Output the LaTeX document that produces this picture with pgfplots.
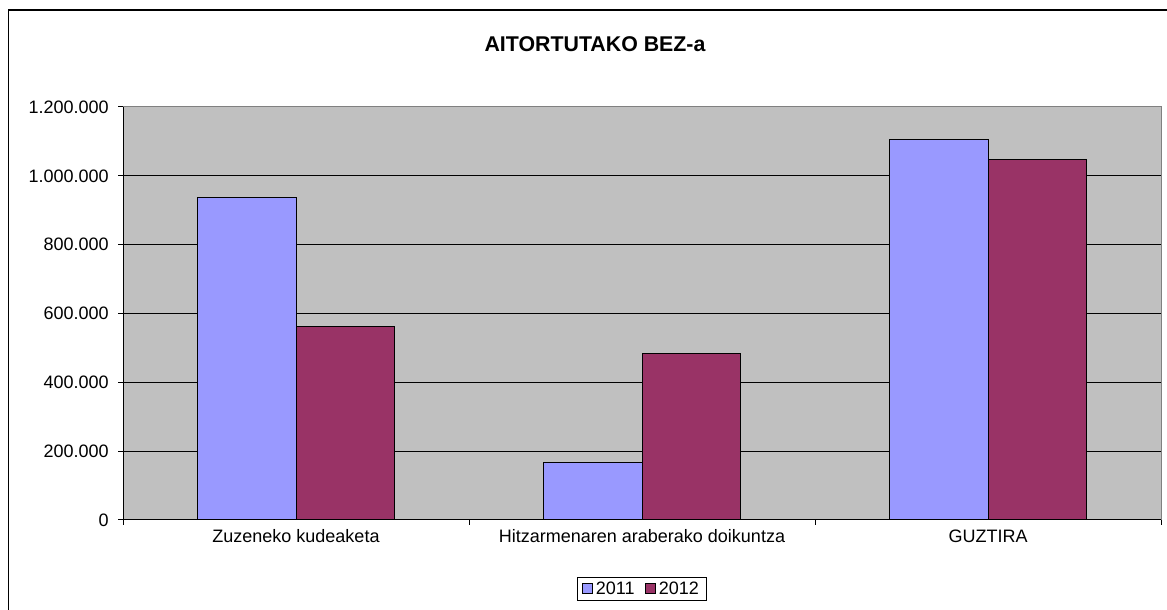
\documentclass[border=0pt]{standalone}
\usepackage{pgfplots}
\pgfplotsset{compat=1.18}
\usepackage{fontspec}
\setmainfont{Liberation Sans}
\definecolor{bgc}{RGB}{192,192,192}
\definecolor{c2011}{RGB}{153,153,255}
\definecolor{c2012}{RGB}{153,51,102}
\definecolor{bordergray}{RGB}{128,128,128}
\begin{document}
\begin{tikzpicture}
\useasboundingbox (0,0) rectangle (875.25pt,457.5pt);
\draw[line width=0.9pt] (6.3pt,-2pt) -- (6.3pt,450pt) -- (880pt,450pt);
\node[anchor=base, font=\bfseries\fontsize{16}{19}\selectfont] at (446.25pt,418.5pt) {AITORTUTAKO BEZ-a};
\begin{axis}[
  at={(92.25pt,67.5pt)}, anchor=south west,
  scale only axis, width=778.5pt, height=309.75pt,
  xmin=-0.5, xmax=2.5, ymin=0, ymax=1200000,
  enlargelimits=false,
  axis background/.style={fill=bgc},
  axis line style={draw=bordergray, line width=0.75pt},
  ymajorgrids, grid style={black, line width=0.75pt},
  ytick={0,200000,400000,600000,800000,1000000,1200000},
  scaled y ticks=false,
  /pgf/number format/assume math mode=true,
  /pgf/number format/fixed,
  /pgf/number format/1000 sep={.},
  yticklabel style={xshift=-3.5pt},
  xtick={0,1,2},
  xticklabels={Zuzeneko kudeaketa, Hitzarmenaren araberako doikuntza, GUZTIRA},
  minor xtick={-0.5,0.5,1.5,2.5},
  major x tick style={draw=none},
  minor x tick style={draw=black, line width=0.75pt},
  y tick style={draw=black, line width=0.75pt},
  tick align=outside,
  major tick length=3.75pt, minor tick length=3.75pt,
  xtick pos=bottom, ytick pos=left,
  tick label style={font=\fontsize{13.5}{16}\selectfont},
  ybar, bar width=0.286,
  legend style={at={(0.5,-0.138)}, anchor=north, draw=black, line width=0.75pt,
    fill=white, font=\fontsize{13.5}{16}\selectfont, legend columns=2,
    inner xsep=4pt, inner ysep=1pt,
    /tikz/every even column/.append style={column sep=6pt}},
  legend image code/.code={\draw[#1, draw=black, line width=0.6pt] (0pt,-3.5pt) rectangle (7.5pt,4pt);},
]
\addplot[fill=c2011, draw=black, line width=0.75pt, bar shift=-0.143] coordinates {(0,936000) (1,168000) (2,1105000)};
\addplot[fill=c2012, draw=black, line width=0.75pt, bar shift=0.143] coordinates {(0,561000) (1,483000) (2,1047000)};
\legend{2011,2012}
\draw[black, line width=0.75pt] (rel axis cs:0,0) -- (rel axis cs:0,1);
\draw[black, line width=0.75pt] (rel axis cs:0,0) -- (rel axis cs:1,0);
\end{axis}
\end{tikzpicture}
\end{document}
